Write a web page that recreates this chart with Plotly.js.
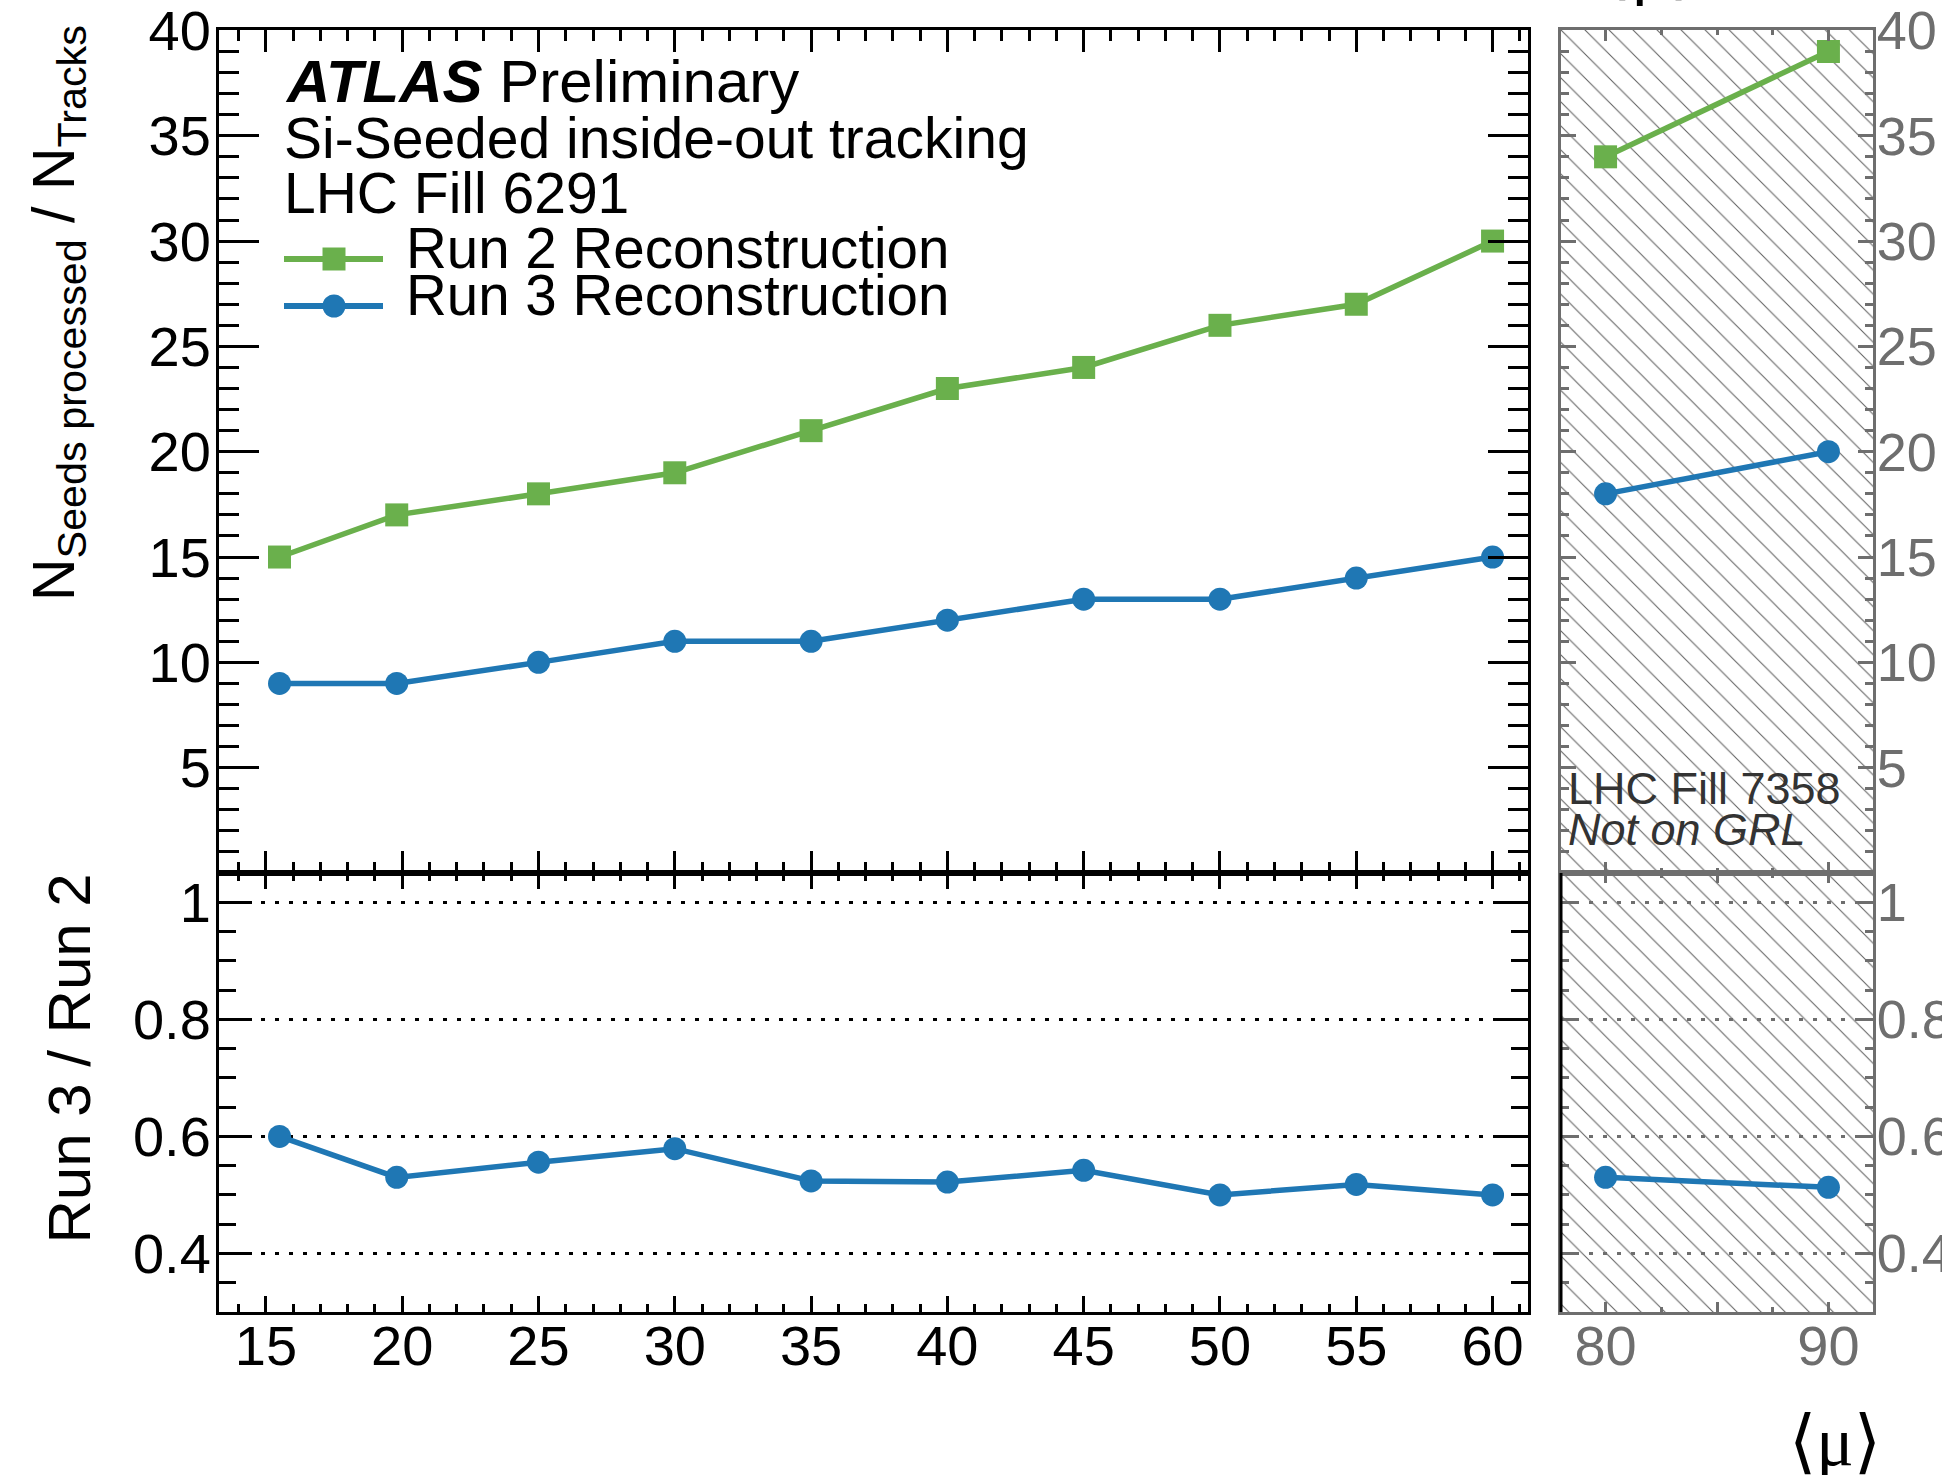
<!DOCTYPE html>
<html>
<head>
<meta charset="utf-8">
<script src="https://cdn.plot.ly/plotly-3.0.1.min.js"></script>
<style>
html,body{margin:0;padding:0;background:#ffffff;}
#chart{width:1942px;height:1475px;}
</style>
</head>
<body>
<div id="chart"></div>
<script>
// ---------------- data ----------------
const muLow      = [15.5, 19.8, 25, 30, 35, 40, 45, 50, 55, 60];
const run2Low    = [15, 17, 18, 19, 21, 23, 24, 26, 27, 30];
const run3Low    = [9, 9, 10, 11, 11, 12, 13, 13, 14, 15];
const ratioLow   = [0.600, 0.530, 0.556, 0.579, 0.524, 0.522, 0.542, 0.500, 0.518, 0.500];

const muHigh     = [80, 90];
const run2High   = [34, 39];
const run3High   = [18, 20];
const ratioHigh  = [0.530, 0.513];

const xTickVals      = [15, 20, 25, 30, 35, 40, 45, 50, 55, 60];
const xTickText      = ['15', '20', '25', '30', '35', '40', '45', '50', '55', '60'];
const xHighTickVals  = [80, 85, 90];
const xHighTickText  = ['80', '', '90'];
const yTopTickVals   = [5, 10, 15, 20, 25, 30, 35, 40];
const yTopTickText   = ['5', '10', '15', '20', '25', '30', '35', '40'];
const yRatioTickVals = [0.4, 0.6, 0.8, 1.0];
const yRatioTickText = ['0.4', '0.6', '0.8', '1'];

const labelRun2 = 'Run 2 Reconstruction';
const labelRun3 = 'Run 3 Reconstruction';

// ---------------- layout helpers ----------------
const W = 1942, H = 1475;
const px = v => v / W;
const py = v => 1 - v / H;
const FONT = '"Liberation Sans", Arial, Helvetica, sans-serif';
const SERIF = '"Liberation Serif", "DejaVu Serif", serif';
const GREEN = '#6ab04c';
const BLUE = '#1f77b4';
const GRAY = '#6e6e6e';

const xMainDom  = [px(219), px(1528)];
const xRightDom = [px(1561), px(1873)];
const yTopDom   = [py(873), py(30)];
const yBotDom   = [py(1312), py(873)];

function axisBase(color) {
  return {
    showline: true, linecolor: color, linewidth: 3,
    ticks: 'inside', tickcolor: color, tickwidth: 3,
    mirror: 'allticks', showgrid: false, zeroline: false,
    tickfont: {family: FONT, size: 56, color: color},
    ticklabeloverflow: 'allow',
    fixedrange: true
  };
}

const LW = 5.5, SQ = 23, CI = 23;

// ---------------- traces ----------------
const traces = [
  // hatched background of the high-mu panels
  {
    type: 'scatter', xaxis: 'x', yaxis: 'y',
    x: [0, 1, 1, 0, 0], y: [0, 0, 1, 1, 0],
    mode: 'lines', fill: 'toself', line: {width: 0},
    fillcolor: 'rgba(255,255,255,1)',
    fillpattern: {shape: '\\', size: 17, solidity: 0.06, fgcolor: '#606060', bgcolor: '#ffffff'},
    hoverinfo: 'skip', showlegend: false
  },
  {
    type: 'scatter', xaxis: 'x2', yaxis: 'y2', name: labelRun2,
    x: muLow, y: run2Low, mode: 'lines+markers',
    line: {color: GREEN, width: LW},
    marker: {symbol: 'square', size: SQ, color: GREEN}
  },
  {
    type: 'scatter', xaxis: 'x2', yaxis: 'y2', name: labelRun3,
    x: muLow, y: run3Low, mode: 'lines+markers',
    line: {color: BLUE, width: LW},
    marker: {symbol: 'circle', size: CI, color: BLUE}
  },
  {
    type: 'scatter', xaxis: 'x3', yaxis: 'y3', name: 'Run 3 / Run 2',
    x: muLow, y: ratioLow, mode: 'lines+markers',
    line: {color: BLUE, width: LW},
    marker: {symbol: 'circle', size: CI, color: BLUE}
  },
  {
    type: 'scatter', xaxis: 'x4', yaxis: 'y4', name: labelRun2,
    x: muHigh, y: run2High, mode: 'lines+markers',
    line: {color: GREEN, width: LW},
    marker: {symbol: 'square', size: SQ, color: GREEN}
  },
  {
    type: 'scatter', xaxis: 'x4', yaxis: 'y4', name: labelRun3,
    x: muHigh, y: run3High, mode: 'lines+markers',
    line: {color: BLUE, width: LW},
    marker: {symbol: 'circle', size: CI, color: BLUE}
  },
  {
    type: 'scatter', xaxis: 'x5', yaxis: 'y5', name: 'Run 3 / Run 2',
    x: muHigh, y: ratioHigh, mode: 'lines+markers',
    line: {color: BLUE, width: LW},
    marker: {symbol: 'circle', size: CI, color: BLUE}
  }
];

// ---------------- axes ----------------
const xMainRange = [13.28, 61.3];
const xHighRange = [78, 92];
const yTopRange = [0, 40.02];
const yRatioRange = [0.3, 1.05];

const layout = {
  width: W, height: H,
  margin: {l: 0, r: 0, t: 0, b: 0, pad: 0},
  paper_bgcolor: '#ffffff',
  plot_bgcolor: 'rgba(0,0,0,0)',
  showlegend: false,
  hovermode: false,
  font: {family: FONT, color: '#000000'},

  xaxis: {domain: xRightDom, anchor: 'y', range: [0, 1], visible: false, fixedrange: true},
  yaxis: {domain: [py(1312), py(30)], anchor: 'x', range: [0, 1], visible: false, fixedrange: true},

  xaxis2: Object.assign(axisBase('#000000'), {
    domain: xMainDom, anchor: 'y2', range: xMainRange,
    tickmode: 'array', tickvals: xTickVals, ticktext: xTickText,
    showticklabels: false, ticklen: 22,
    minor: {tickmode: 'linear', tick0: 0, dtick: 1, ticks: 'inside', ticklen: 11, tickwidth: 3, tickcolor: '#000000'}
  }),
  yaxis2: Object.assign(axisBase('#000000'), {
    domain: yTopDom, anchor: 'x2', range: yTopRange,
    tickmode: 'array', tickvals: yTopTickVals, ticktext: yTopTickText,
    ticklen: 40, ticklabelstandoff: -6,
    minor: {tickmode: 'linear', tick0: 0, dtick: 1, ticks: 'inside', ticklen: 20, tickwidth: 3, tickcolor: '#000000'}
  }),

  xaxis3: Object.assign(axisBase('#000000'), {
    domain: xMainDom, anchor: 'y3', range: xMainRange,
    tickmode: 'array', tickvals: xTickVals, ticktext: xTickText,
    ticklen: 16, ticklabelstandoff: -17,
    minor: {tickmode: 'linear', tick0: 0, dtick: 1, ticks: 'inside', ticklen: 8, tickwidth: 3, tickcolor: '#000000'}
  }),
  yaxis3: Object.assign(axisBase('#000000'), {
    domain: yBotDom, anchor: 'x3', range: yRatioRange,
    tickmode: 'array', tickvals: yRatioTickVals, ticktext: yRatioTickText,
    ticklen: 33, ticklabelstandoff: -6,
    showgrid: true, gridcolor: '#000000', gridwidth: 3, griddash: '4px,10px',
    minor: {tickmode: 'linear', tick0: 0, dtick: 0.05, ticks: 'inside', ticklen: 17, tickwidth: 3, tickcolor: '#000000'}
  }),

  xaxis4: Object.assign(axisBase(GRAY), {
    domain: xRightDom, anchor: 'y4', range: xHighRange,
    tickmode: 'array', tickvals: xHighTickVals, ticktext: xHighTickText,
    showticklabels: false, ticklen: 11,
    minor: {tickmode: 'linear', tick0: 80, dtick: 2.5, ticks: 'inside', ticklen: 5, tickwidth: 3, tickcolor: GRAY}
  }),
  yaxis4: Object.assign(axisBase(GRAY), {
    domain: yTopDom, anchor: 'x4', side: 'right', range: yTopRange,
    tickmode: 'array', tickvals: yTopTickVals, ticktext: yTopTickText,
    ticklen: 15, ticklabelstandoff: -10,
    tickfont: {family: FONT, size: 54, color: GRAY},
    minor: {tickmode: 'linear', tick0: 0, dtick: 1, ticks: 'inside', ticklen: 8, tickwidth: 3, tickcolor: GRAY}
  }),

  xaxis5: Object.assign(axisBase(GRAY), {
    domain: xRightDom, anchor: 'y5', range: xHighRange,
    tickmode: 'array', tickvals: xHighTickVals, ticktext: xHighTickText,
    ticklen: 10, ticklabelstandoff: -17,
    tickfont: {family: FONT, size: 56, color: GRAY},
    minor: {tickmode: 'linear', tick0: 80, dtick: 2.5, ticks: 'inside', ticklen: 5, tickwidth: 3, tickcolor: GRAY}
  }),
  yaxis5: Object.assign(axisBase(GRAY), {
    domain: yBotDom, anchor: 'x5', side: 'right', range: yRatioRange,
    tickmode: 'array', tickvals: yRatioTickVals, ticktext: yRatioTickText,
    ticklen: 15, ticklabelstandoff: -10,
    tickfont: {family: FONT, size: 54, color: GRAY},
    showgrid: true, gridcolor: GRAY, gridwidth: 3, griddash: '4px,10px',
    minor: {tickmode: 'linear', tick0: 0, dtick: 0.05, ticks: 'inside', ticklen: 8, tickwidth: 3, tickcolor: GRAY}
  }),

  shapes: [
    // black left edge of the lower high-mu panel
    {type: 'line', xref: 'x5 domain', yref: 'y5 domain', x0: 0, x1: 0, y0: 0, y1: 1,
     line: {color: '#000000', width: 3}, layer: 'above'},
    // legend glyphs
    {type: 'line', xref: 'paper', yref: 'paper', x0: px(284), x1: px(383), y0: py(259), y1: py(259),
     line: {color: GREEN, width: 6}},
    {type: 'rect', xref: 'paper', yref: 'paper', x0: px(322.5), x1: px(345.5), y0: py(247.5), y1: py(270.5),
     fillcolor: GREEN, line: {width: 0}},
    {type: 'line', xref: 'paper', yref: 'paper', x0: px(284), x1: px(383), y0: py(306), y1: py(306),
     line: {color: BLUE, width: 6}},
    {type: 'circle', xref: 'paper', yref: 'paper', x0: px(322.5), x1: px(345.5), y0: py(294.5), y1: py(317.5),
     fillcolor: BLUE, line: {width: 0}}
  ],

  annotations: []
};

function textAt(text, x, baseline, size, opts) {
  const o = Object.assign({
    text: text, xref: 'paper', yref: 'paper', showarrow: false,
    x: px(x), y: py(baseline - 0.3465 * size),
    xanchor: 'left', yanchor: 'middle',
    font: {family: FONT, size: size, color: '#000000'},
    borderpad: 0
  }, opts || {});
  return o;
}

layout.annotations.push(
  textAt('<b><i>ATLAS</i></b> Preliminary', 284, 102, 60),
  textAt('Si-Seeded inside-out tracking', 283, 158, 57),
  textAt('LHC Fill 6291', 283, 213, 57),
  textAt(labelRun2, 405, 268, 56.5),
  textAt(labelRun3, 405, 315, 56.5),
  textAt('LHC Fill 7358', 1567, 804, 45, {font: {family: FONT, size: 45, color: '#333333'}}),
  textAt('<i>Not on GRL</i>', 1567, 845, 45, {font: {family: FONT, size: 45, color: '#333333'}}),
  // y-axis titles (rotated)
  {
    text: 'N<sub>Seeds processed</sub> / N<sub>Tracks</sub>',
    xref: 'paper', yref: 'paper', showarrow: false, textangle: -90,
    x: px(20), y: py(24), xanchor: 'left', yanchor: 'top',
    font: {family: FONT, size: 59, color: '#000000'}, borderpad: 0
  },
  {
    text: 'Run 3 / Run 2',
    xref: 'paper', yref: 'paper', showarrow: false, textangle: -90,
    x: px(34), y: py(873), xanchor: 'left', yanchor: 'top',
    font: {family: FONT, size: 60, color: '#000000'}, borderpad: 0
  },
  // x-axis title
  {
    text: '⟨μ⟩', xref: 'paper', yref: 'paper', showarrow: false,
    x: px(1835), y: py(1402), xanchor: 'center', yanchor: 'top',
    font: {family: SERIF, size: 70, color: '#000000'}, borderpad: 0
  },
  // partially visible label at the very top
  {
    text: '⟨μ⟩', xref: 'paper', yref: 'paper', showarrow: false,
    x: px(1650), y: py(8), xanchor: 'center', yanchor: 'bottom',
    font: {family: SERIF, size: 72, color: '#000000'}, borderpad: 0
  }
);

Plotly.newPlot('chart', traces, layout, {staticPlot: true, displayModeBar: false});
</script>
</body>
</html>
